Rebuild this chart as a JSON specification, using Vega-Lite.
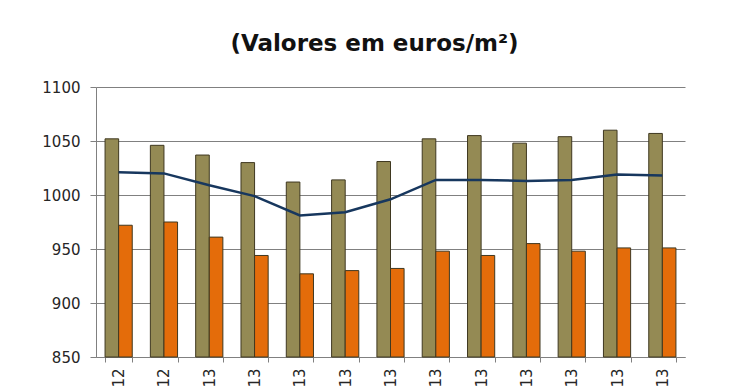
{
  "$schema": "https://vega.github.io/schema/vega-lite/v6.json",
  "autosize": "none",
  "width": 589,
  "height": 270,
  "padding": {"left": 96, "top": 87, "right": 55, "bottom": 32},
  "background": "#ffffff",
  "title": {
    "text": "(Valores em euros/m²)",
    "font": "DejaVu Sans",
    "fontSize": 23,
    "fontWeight": "bold",
    "color": "#111111",
    "anchor": "middle",
    "dx": -16,
    "baseline": "alphabetic",
    "offset": 6
  },
  "config": {
    "view": {"stroke": null},
    "font": "DejaVu Sans"
  },
  "data": {
    "values": [
      {"mes": "nov-12", "serie": "Apartamentos", "valor": 1052},
      {"mes": "dez-12", "serie": "Apartamentos", "valor": 1046},
      {"mes": "jan-13", "serie": "Apartamentos", "valor": 1037},
      {"mes": "fev-13", "serie": "Apartamentos", "valor": 1030},
      {"mes": "mar-13", "serie": "Apartamentos", "valor": 1012},
      {"mes": "abr-13", "serie": "Apartamentos", "valor": 1014},
      {"mes": "mai-13", "serie": "Apartamentos", "valor": 1031},
      {"mes": "jun-13", "serie": "Apartamentos", "valor": 1052},
      {"mes": "jul-13", "serie": "Apartamentos", "valor": 1055},
      {"mes": "ago-13", "serie": "Apartamentos", "valor": 1048},
      {"mes": "set-13", "serie": "Apartamentos", "valor": 1054},
      {"mes": "out-13", "serie": "Apartamentos", "valor": 1060},
      {"mes": "nov-13", "serie": "Apartamentos", "valor": 1057},
      {"mes": "nov-12", "serie": "Moradias", "valor": 972},
      {"mes": "dez-12", "serie": "Moradias", "valor": 975},
      {"mes": "jan-13", "serie": "Moradias", "valor": 961},
      {"mes": "fev-13", "serie": "Moradias", "valor": 944},
      {"mes": "mar-13", "serie": "Moradias", "valor": 927},
      {"mes": "abr-13", "serie": "Moradias", "valor": 930},
      {"mes": "mai-13", "serie": "Moradias", "valor": 932},
      {"mes": "jun-13", "serie": "Moradias", "valor": 948},
      {"mes": "jul-13", "serie": "Moradias", "valor": 944},
      {"mes": "ago-13", "serie": "Moradias", "valor": 955},
      {"mes": "set-13", "serie": "Moradias", "valor": 948},
      {"mes": "out-13", "serie": "Moradias", "valor": 951},
      {"mes": "nov-13", "serie": "Moradias", "valor": 951},
      {"mes": "nov-12", "serie": "Total", "valor": 1021},
      {"mes": "dez-12", "serie": "Total", "valor": 1020},
      {"mes": "jan-13", "serie": "Total", "valor": 1009},
      {"mes": "fev-13", "serie": "Total", "valor": 999},
      {"mes": "mar-13", "serie": "Total", "valor": 981},
      {"mes": "abr-13", "serie": "Total", "valor": 984},
      {"mes": "mai-13", "serie": "Total", "valor": 996},
      {"mes": "jun-13", "serie": "Total", "valor": 1014},
      {"mes": "jul-13", "serie": "Total", "valor": 1014},
      {"mes": "ago-13", "serie": "Total", "valor": 1013},
      {"mes": "set-13", "serie": "Total", "valor": 1014},
      {"mes": "out-13", "serie": "Total", "valor": 1019},
      {"mes": "nov-13", "serie": "Total", "valor": 1018}
    ]
  },
  "encoding": {
    "x": {
      "field": "mes",
      "type": "ordinal",
      "sort": ["nov-12", "dez-12", "jan-13", "fev-13", "mar-13", "abr-13", "mai-13", "jun-13", "jul-13", "ago-13", "set-13", "out-13", "nov-13"],
      "scale": {"paddingInner": 0.4, "paddingOuter": 0.2},
      "axis": {
        "title": null,
        "labelExpr": "slice(datum.label, 4)",
        "labelAngle": -90,
        "labelFont": "DejaVu Sans",
        "labelFontSize": 15,
        "labelColor": "#262626",
        "labelPadding": 6,
        "ticks": true,
        "tickBand": "extent",
        "tickSize": 5,
        "tickColor": "#808080",
        "domainColor": "#808080",
        "domainWidth": 1,
        "grid": false
      }
    }
  },
  "layer": [
    {
      "transform": [{"filter": "datum.serie !== 'Total'"}],
      "mark": {"type": "bar", "stroke": "#3f3820", "strokeWidth": 1},
      "encoding": {
        "xOffset": {"field": "serie", "type": "nominal", "sort": ["Apartamentos", "Moradias"], "scale": {"paddingInner": 0, "paddingOuter": 0}},
        "y": {
          "field": "valor",
          "type": "quantitative",
          "scale": {"domain": [850, 1100], "nice": false, "zero": false},
          "axis": {
            "title": null,
            "format": "d",
            "values": [850, 900, 950, 1000, 1050, 1100],
            "labelFont": "DejaVu Sans",
            "labelFontSize": 15,
            "labelColor": "#262626",
            "labelPadding": 10,
            "tickSize": 6,
            "tickColor": "#808080",
            "domainColor": "#808080",
            "grid": true,
            "gridColor": "#808080",
            "gridWidth": 1
          }
        },
        "y2": {"datum": 850},
        "color": {
          "field": "serie",
          "type": "nominal",
          "scale": {"domain": ["Apartamentos", "Moradias"], "range": ["#948A54", "#E46C0A"]},
          "legend": null
        }
      }
    },
    {
      "transform": [{"filter": "datum.serie === 'Total'"}],
      "mark": {"type": "line", "color": "#17375E", "strokeWidth": 2.5},
      "encoding": {
        "y": {"field": "valor", "type": "quantitative"}
      }
    }
  ]
}
